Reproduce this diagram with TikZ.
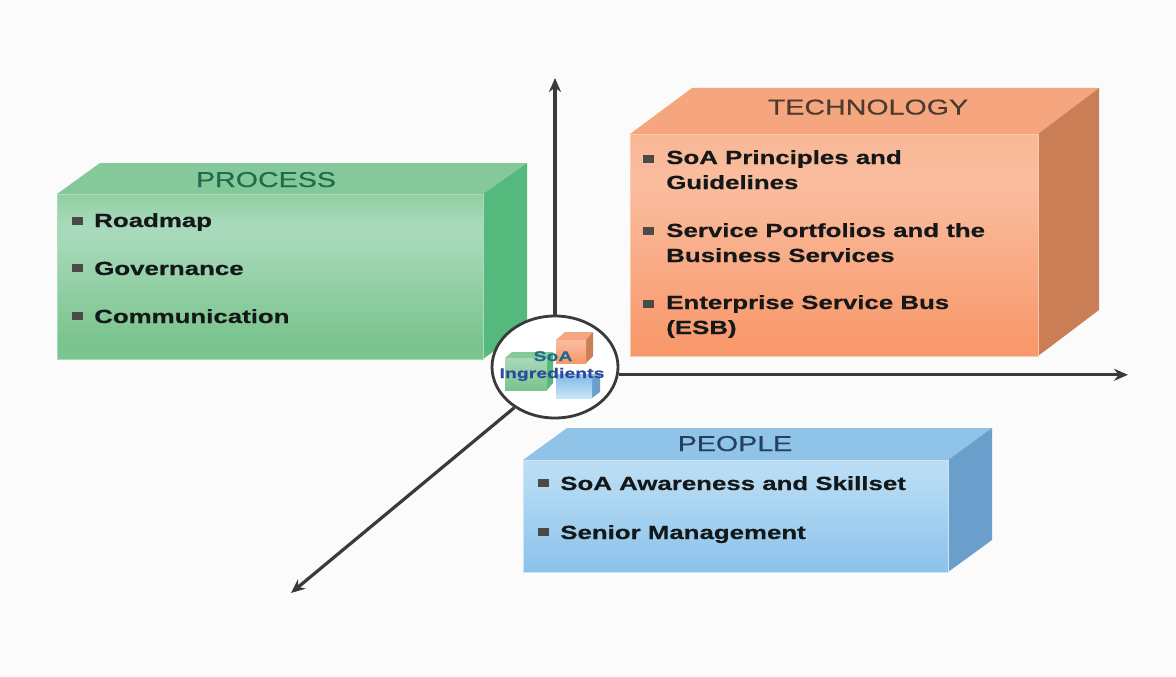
\documentclass[tikz,border=0pt]{standalone}
\usepackage{fontspec}
\setmainfont[BoldFeatures={FakeBold=0.5},FakeBold=0.35]{Liberation Sans}
\usetikzlibrary{arrows.meta,shapes.geometric}
\definecolor{bgc}{HTML}{FBFBFB}
\definecolor{axisc}{HTML}{3A3A3A}
\definecolor{bul}{HTML}{4A4A48}
\definecolor{txtc}{HTML}{141818}
\definecolor{g1}{HTML}{8FCFA1}
\definecolor{g2}{HTML}{A8D9BA}
\definecolor{g3}{HTML}{7AC48D}
\definecolor{ge}{HTML}{A9DCBB}
\definecolor{o1}{HTML}{F9B896}
\definecolor{o2}{HTML}{FABD9F}
\definecolor{o3}{HTML}{F8986B}
\definecolor{oe}{HTML}{FBC9AE}
\definecolor{b1}{HTML}{BBDEF5}
\definecolor{b2}{HTML}{B4DAF3}
\definecolor{b3}{HTML}{8DC3EB}
\definecolor{be}{HTML}{CBE5F6}
\definecolor{gtop}{HTML}{85C99B}
\definecolor{gside}{HTML}{55B87C}
\definecolor{otop}{HTML}{F5A67F}
\definecolor{oside}{HTML}{C97E55}
\definecolor{btop}{HTML}{8FC3E8}
\definecolor{bside}{HTML}{6A9FCB}
\definecolor{gtitle}{HTML}{1F6B4C}
\definecolor{ttitle}{HTML}{4A3A30}
\definecolor{ptitle}{HTML}{24405C}
\definecolor{hubteal}{HTML}{1F6A8C}
\definecolor{hubblue}{HTML}{2B4A9B}
\pgfdeclareverticalshading{gfront}{100bp}{color(0bp)=(g3); color(30bp)=(g3); color(62bp)=(g2); color(66bp)=(g2); color(75bp)=(g1); color(100bp)=(g1)}
\pgfdeclareverticalshading{ofront}{100bp}{color(0bp)=(o3); color(27bp)=(o3); color(64bp)=(o2); color(75bp)=(o1); color(100bp)=(o1)}
\pgfdeclareverticalshading{bfront}{100bp}{color(0bp)=(b3); color(27bp)=(b3); color(64bp)=(b2); color(75bp)=(b1); color(100bp)=(b1)}
\tikzset{
  x=1pt,y=-1pt,
  itemtext/.style={anchor=base west,inner sep=0pt,font=\fontsize{19}{19}\selectfont\bfseries,text=txtc,xscale=1.36,transform shape},
  titletext/.style={anchor=base,inner sep=0pt,font=\fontsize{21.5}{21.5}\selectfont,xscale=1.33,transform shape},
  hubtext/.style={anchor=base,inner sep=0pt,font=\fontsize{14}{14}\selectfont\bfseries,xscale=1.39,transform shape},
  bulletmark/.style={fill=bul,draw=none,minimum width=11pt,minimum height=8pt,inner sep=0pt},
  axisline/.style={draw=axisc,line width=3.2pt,-{Stealth[length=14pt,width=12pt]}},
  greenfront/.style={shading=gfront,draw=ge,line width=1pt},
  orangefront/.style={shading=ofront,draw=oe,line width=1pt},
  bluefront/.style={shading=bfront,draw=be,line width=1pt},
}
\begin{document}
\begin{tikzpicture}
\useasboundingbox (0,0) rectangle (1176,677);
\fill[bgc] (0,0) rectangle (1176,677);

% PROCESS box
\fill[gtop] (57,194) -- (100,163) -- (527,163) -- (483,194) -- cycle;
\fill[gside] (483,194) -- (527,163) -- (527,327) -- (483,359) -- cycle;
\path[greenfront] (57,194) rectangle (483,359);
\node[titletext,text=gtitle] (ptitle) at (266,187) {PROCESS};
\node[bulletmark] (pb1) at (77.5,221) {};
\node[itemtext] (p1) at (94,227) {Roadmap};
\node[bulletmark] (pb2) at (77.5,268) {};
\node[itemtext] (p2) at (94,275) {Governance};
\node[bulletmark] (pb3) at (77.5,316) {};
\node[itemtext] (p3) at (94,323) {Communication};

% TECHNOLOGY box
\fill[otop] (630,134) -- (692,88) -- (1099,88) -- (1038,134) -- cycle;
\fill[oside] (1038,134) -- (1099,88) -- (1099,310) -- (1038,356) -- cycle;
\path[orangefront] (630,134) rectangle (1038,356);
\node[titletext,text=ttitle] (ttl) at (868,114.5) {TECHNOLOGY};
\node[bulletmark] (tb1) at (648.5,159) {};
\node[itemtext] (t1) at (666,164) {SoA Principles and};
\node[itemtext] (t1b) at (666,189) {Guidelines};
\node[bulletmark] (tb2) at (648.5,231) {};
\node[itemtext] (t2) at (666,237) {Service Portfolios and the};
\node[itemtext] (t2b) at (666,262) {Business Services};
\node[bulletmark] (tb3) at (648.5,304) {};
\node[itemtext] (t3) at (666,309) {Enterprise Service Bus};
\node[itemtext] (t3b) at (666,334) {(ESB)};

% PEOPLE box
\fill[btop] (523,460) -- (567,428) -- (992,428) -- (948,460) -- cycle;
\fill[bside] (948,460) -- (992,428) -- (992,540) -- (948,572) -- cycle;
\path[bluefront] (523,460) rectangle (948,572);
\node[titletext,text=ptitle] (pttl) at (735,451) {PEOPLE};
\node[bulletmark] (bb1) at (543,483) {};
\node[itemtext] (b1) at (560,490) {SoA Awareness and Skillset};
\node[bulletmark] (bb2) at (543,532) {};
\node[itemtext] (b2) at (560,539) {Senior Management};

% hub and axes
\node[ellipse,draw=axisc,fill=white,line width=2.8pt,minimum width=126pt,minimum height=102pt,inner sep=0pt] (hub) at (555,367) {};
\coordinate (upEnd) at (555,78);
\coordinate (rightEnd) at (1128,374);
\coordinate (diagEnd) at (291,593);
\draw[axisline] (hub.north) -- (upEnd);
\draw[axisline] (hub.-7) -- (rightEnd |- hub.-7);
\draw[axisline] (hub.225) -- (diagEnd);

% miniature boxes inside the hub
\fill[otop] (556,340) -- (565,332) -- (593,332) -- (586,340) -- cycle;
\fill[oside] (586,340) -- (593,332) -- (593,356) -- (586,363) -- cycle;
\path[top color=o2,bottom color=o3] (556,340) rectangle (586,363);
\fill[gtop] (505,358) -- (512,352) -- (553,352) -- (547,358) -- cycle;
\fill[gside] (547,358) -- (553,352) -- (553,383) -- (547,390) -- cycle;
\path[top color=g2,bottom color=g3] (505,358) rectangle (547,390);
\fill[btop] (556,374) -- (600,374) -- (592,379) -- (556,379) -- cycle;
\fill[bside] (592,379) -- (600,374) -- (600,392) -- (592,398) -- cycle;
\path[top color=b3,bottom color=be] (556,379) rectangle (592,398);
\node[hubtext,text=hubteal] (hubA) at (553,361) {SoA};
\node[hubtext,text=hubblue] (hubB) at (552,378) {Ingredients};
\end{tikzpicture}
\end{document}
